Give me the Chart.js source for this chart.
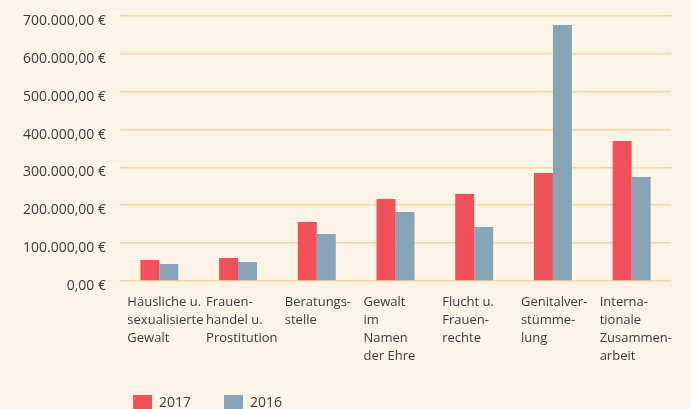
<!DOCTYPE html>
<html>
<head>
<meta charset="utf-8">
<script src="https://cdn.jsdelivr.net/npm/chart.js@4"></script>
<style>
  html, body { margin: 0; padding: 0; background: #fdf4e7; }
  #wrap { width: 691px; height: 409px; position: relative; overflow: hidden; }
</style>
</head>
<body>
<div id="wrap"><canvas id="c" width="691" height="409"></canvas></div>
<script>
const categories = [
  ["Häusliche u.", "sexualisierte", "Gewalt"],
  ["Frauen-", "handel u.", "Prostitution"],
  ["Beratungs-", "stelle"],
  ["Gewalt", "im", "Namen", "der Ehre"],
  ["Flucht u.", "Frauen-", "rechte"],
  ["Genitalver-", "stümme-", "lung"],
  ["Interna-", "tionale", "Zusammen-", "arbeit"]
];
const seriesNames = ["2017", "2016"];
const values2017 = [55500, 60700, 155800, 216600, 229800, 285000, 370000];
const values2016 = [44900, 50200, 124000, 182000, 142600, 676000, 275000];
const yTicks = [0, 100000, 200000, 300000, 400000, 500000, 600000, 700000];

function formatEuro(v) {
  const int = Math.round(v).toString().replace(/\B(?=(\d{3})+(?!\d))/g, ".");
  return int + ",00 €";
}

const textColor = "#3b3b3b";
const fontFamily = "'Open Sans', 'Noto Sans', sans-serif";

new Chart(document.getElementById("c"), {
  type: "bar",
  data: {
    labels: categories,
    datasets: [
      { label: seriesNames[0], data: values2017, backgroundColor: "#f1515b",
        categoryPercentage: 0.4825, barPercentage: 1.0 },
      { label: seriesNames[1], data: values2016, backgroundColor: "#87a4b8",
        categoryPercentage: 0.4825, barPercentage: 1.0 }
    ]
  },
  options: {
    responsive: false,
    animation: false,
    devicePixelRatio: 1,
    layout: { padding: { left: 0, right: 20, top: 16, bottom: -12 } },
    plugins: {
      tooltip: { enabled: false },
      legend: {
        position: "bottom",
        align: "start",
        fullSize: false,
        labels: {
          boxWidth: 19,
          boxHeight: 16,
          padding: 33,
          color: textColor,
          font: { family: fontFamily, size: 14 }
        }
      }
    },
    scales: {
      x: {
        grid: { display: false, drawTicks: false },
        border: { display: false },
        ticks: {
          color: textColor,
          font: { family: fontFamily, size: 13, lineHeight: 18 / 13 },
          align: "start",
          labelOffset: -32,
          padding: 12,
          maxRotation: 0,
          autoSkip: false
        },
        afterFit: (scale) => {
          scale.height = 81;
          scale.paddingLeft = 0;
          scale.paddingRight = 0;
        }
      },
      y: {
        min: 0,
        max: 700000,
        afterBuildTicks: (scale) => { scale.ticks = yTicks.map(v => ({ value: v })); },
        grid: { color: "#fcd5a4", lineWidth: 1.6, drawTicks: false },
        border: { display: false },
        ticks: {
          color: textColor,
          font: { family: fontFamily, size: 14 },
          padding: 14,
          labelOffset: 5,
          callback: (v) => formatEuro(v)
        },
        afterFit: (scale) => {
          scale.width = 120;
          scale.paddingTop = 0;
          scale.paddingBottom = 0;
        }
      }
    }
  },
  plugins: [{
    id: "bg",
    beforeDraw(chart) {
      const ctx = chart.ctx;
      ctx.save();
      ctx.fillStyle = "#fdf4e7";
      ctx.fillRect(0, 0, chart.width, chart.height);
      ctx.restore();
    }
  }, {
    id: "legendShift",
    afterLayout(chart) {
      if (chart.legend) {
        chart.legend.left -= 20;
        chart.legend.right -= 20;
      }
    }
  }]
});
</script>
</body>
</html>
